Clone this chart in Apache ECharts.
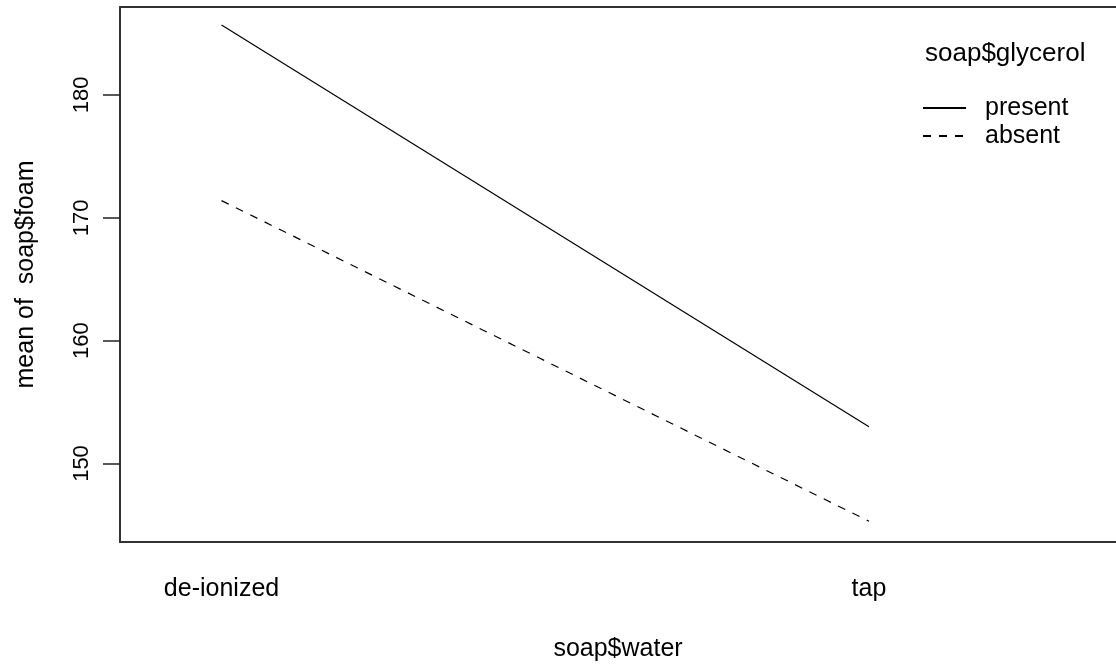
<!DOCTYPE html>
<html>
<head>
<meta charset="utf-8">
<script src="https://cdn.jsdelivr.net/npm/echarts@6/dist/echarts.min.js"></script>
<style>
html,body{margin:0;padding:0;background:#fff;}
#chart{width:1116px;height:667px;}
</style>
</head>
<body>
<div id="chart"></div>
<script>
const categories = ['de-ionized', 'tap'];
const groups = ['present', 'absent'];
const presentValues = [185.7, 153.0];
const absentValues = [171.4, 145.3];
const yTicks = [150, 160, 170, 180];
const xTitle = 'soap$water';
const yTitle = 'mean of  soap$foam';
const legendTitle = 'soap$glycerol';

const FONT = '"Liberation Sans", Arial, sans-serif';
const AXIS_LINE = {color: '#333', width: 2};
const toPairs = vals => categories.map((c, i) => [i + 1, vals[i]]);
const X_MIN = 0.8432, X_MAX = 2.3815;

const chart = echarts.init(document.getElementById('chart'), null, {renderer: 'canvas'});
chart.setOption({
  animation: false,
  backgroundColor: '#ffffff',
  textStyle: {fontFamily: FONT, color: '#000'},
  title: {
    text: legendTitle,
    left: 925,
    top: 41,
    padding: 0,
    textStyle: {fontFamily: FONT, fontSize: 26, fontWeight: 'normal', color: '#000'}
  },
  legend: {
    orient: 'vertical',
    left: 922,
    top: 94,
    padding: 0,
    itemGap: 0,
    itemWidth: 43,
    itemHeight: 14,
    data: groups,
    itemStyle: {opacity: 0},
    textStyle: {fontFamily: FONT, fontSize: 25, color: '#000', lineHeight: 28, padding: [0, 0, 0, 14]}
  },
  grid: {
    left: 120,
    top: 7,
    right: 0,
    height: 535,
    show: false,
    containLabel: false
  },
  xAxis: [
    {
      type: 'value',
      min: X_MIN,
      max: X_MAX,
      position: 'bottom',
      name: xTitle,
      nameLocation: 'middle',
      nameGap: 95,
      nameTextStyle: {fontFamily: FONT, fontSize: 25, color: '#000'},
      axisLine: {show: true, onZero: false, lineStyle: AXIS_LINE},
      axisTick: {show: false},
      splitLine: {show: false},
      axisLabel: {
        customValues: [1, 2],
        formatter: v => categories[Math.round(v) - 1] || '',
        fontFamily: FONT,
        fontSize: 25,
        color: '#000',
        margin: 35
      }
    },
    {
      type: 'value',
      min: X_MIN,
      max: X_MAX,
      position: 'top',
      axisLine: {show: true, onZero: false, lineStyle: AXIS_LINE},
      axisTick: {show: false},
      axisLabel: {show: false},
      splitLine: {show: false}
    }
  ],
  yAxis: {
    type: 'value',
    min: 143.61,
    max: 187.16,
    name: yTitle,
    nameLocation: 'middle',
    nameGap: 81,
    nameTextStyle: {fontFamily: FONT, fontSize: 25, color: '#000'},
    axisLine: {show: true, onZero: false, lineStyle: AXIS_LINE},
    axisTick: {show: true, customValues: yTicks, length: 17, lineStyle: {color: '#222', width: 1.5}},
    splitLine: {show: false},
    axisLabel: {
      customValues: yTicks,
      rotate: 90,
      fontFamily: FONT,
      fontSize: 22,
      color: '#000',
      margin: 27
    }
  },
  series: [
    {
      name: groups[0],
      type: 'line',
      xAxisIndex: 0,
      data: toPairs(presentValues),
      symbol: 'none',
      showSymbol: false,
      lineStyle: {color: '#000', width: 1.2, type: 'solid'},
      itemStyle: {color: '#000'}
    },
    {
      name: groups[1],
      type: 'line',
      xAxisIndex: 0,
      data: toPairs(absentValues),
      symbol: 'none',
      showSymbol: false,
      lineStyle: {color: '#000', width: 1.2, type: [8, 8]},
      itemStyle: {color: '#000'}
    }
  ]
});
</script>
</body>
</html>
